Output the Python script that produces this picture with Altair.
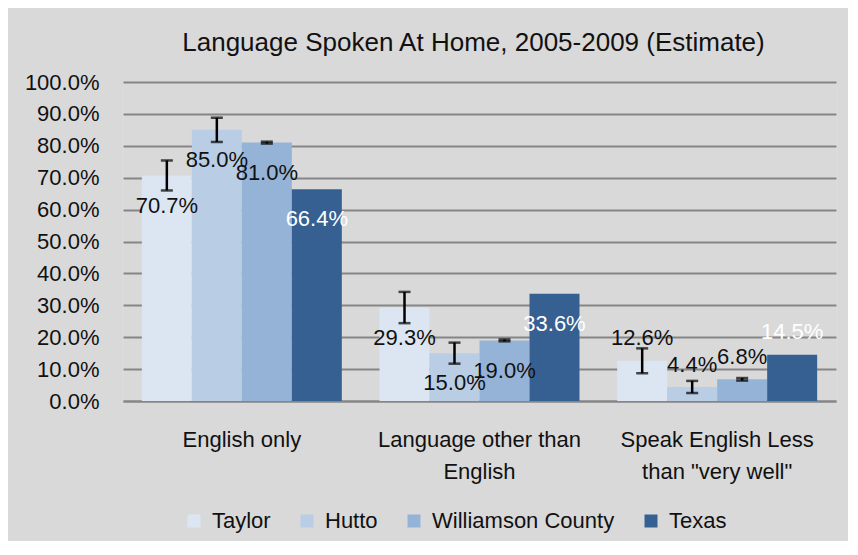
import altair as alt
import pandas as pd

categories = ["English only", "Language other than|English", "Speak English Less|than \"very well\""]
series = ["Taylor", "Hutto", "Williamson County", "Texas"]
colors = ["#dce6f2", "#b9cde5", "#95b3d7", "#376092"]

taylor = [70.7, 29.3, 12.6]
hutto = [85.0, 15.0, 4.4]
williamson = [81.0, 19.0, 6.8]
texas = [66.4, 33.6, 14.5]

err_taylor = [4.7, 4.9, 3.9]
err_hutto = [3.8, 3.3, 1.9]
err_williamson = [0.3, 0.3, 0.4]
err_texas = [0.0, 0.0, 0.0]

y_ticks = [0, 10, 20, 30, 40, 50, 60, 70, 80, 90, 100]

vals = [taylor, hutto, williamson, texas]
errs = [err_taylor, err_hutto, err_williamson, err_texas]
rows = []
for s, v, e in zip(series, vals, errs):
    for i, c in enumerate(categories):
        rows.append({"cat": c, "ci": i, "series": s, "v": v[i],
                     "lo": v[i] - e[i], "hi": v[i] + e[i], "e": e[i]})
df = pd.DataFrame(rows)

FONT = "Liberation Sans, Arial, sans-serif"
TXT = "#111111"

x = alt.X("cat:N", sort=categories, title=None,
          scale=alt.Scale(paddingInner=0, paddingOuter=0),
          axis=alt.Axis(labelAngle=0, labelExpr="split(datum.label, '|')", labelFontSize=22,
                        labelLineHeight=32, labelPadding=28, ticks=False, domainColor="#868686",
                        domainWidth=2, labelColor=TXT, labelFont=FONT, labelLimit=0))
xo = alt.XOffset("series:N", sort=series, scale=alt.Scale(paddingInner=0, paddingOuter=0.377))
yscale = alt.Scale(domain=[0, 100], nice=False, zero=True)
yaxis = alt.Axis(values=y_ticks, labelExpr="format(datum.value, '.1f') + '%'", labelFontSize=22,
                 labelPadding=24, ticks=False, domain=False, gridColor="#868686",
                 gridWidth=2, labelColor=TXT, labelFont=FONT, labelOverlap=False, title=None,
                 tickCount=11)


def Y(field):
    return alt.Y(field, scale=yscale, axis=yaxis, title=None)


base = alt.Chart(df)

bars = base.mark_bar().encode(
    x=x, xOffset=xo, y=Y("v:Q"),
    color=alt.Color("series:N", sort=series, scale=alt.Scale(domain=series, range=colors),
                    legend=alt.Legend(title=None, orient="none", direction="horizontal",
                                      legendX=60, legendY=428, symbolType="square", symbolSize=169,
                                      symbolStrokeWidth=0, labelFontSize=22, labelFont=FONT,
                                      columnPadding=25, labelOffset=7, labelColor=TXT,
                                      symbolOpacity=1, labelLimit=0)),
)

eb = base.transform_filter("datum.e > 0")
rules = eb.mark_rule(color="black", strokeWidth=2.5).encode(
    x=x, xOffset=xo, y=Y("lo:Q"), y2="hi:Q")
cap_top = eb.mark_tick(color="black", thickness=2.5, size=12, orient="horizontal").encode(
    x=x, xOffset=xo, y=Y("hi:Q"))
cap_bot = eb.mark_tick(color="black", thickness=2.5, size=12, orient="horizontal").encode(
    x=x, xOffset=xo, y=Y("lo:Q"))

labels = base.transform_calculate(
    ly="datum.ci == 2 ? datum.v + 7 : datum.v - 9.5",
    lt="format(datum.v, '.1f') + '%'"
).mark_text(fontSize=22, font=FONT, baseline="middle").encode(
    x=x, xOffset=xo, y=Y("ly:Q"),
    text="lt:N",
    color=alt.condition("datum.series == 'Texas'", alt.value("white"), alt.value(TXT)),
)

chart = alt.layer(bars, rules, cap_top, cap_bot, labels).properties(
    width=713, height=319,
    title=alt.TitleParams("Language Spoken At Home, 2005-2009 (Estimate)", fontSize=26,
                          font=FONT, fontWeight="normal", color=TXT, offset=15, dx=-6),
    autosize=alt.AutoSizeParams(type="none"),
    padding={"left": 115, "top": 74, "right": 12, "bottom": 140},
    background="#d9d9d9",
).configure_view(fill="#c0c0c0", stroke=None).configure(font=FONT)

chart.save("out.html", embed_options={"renderer": "svg", "actions": False})
